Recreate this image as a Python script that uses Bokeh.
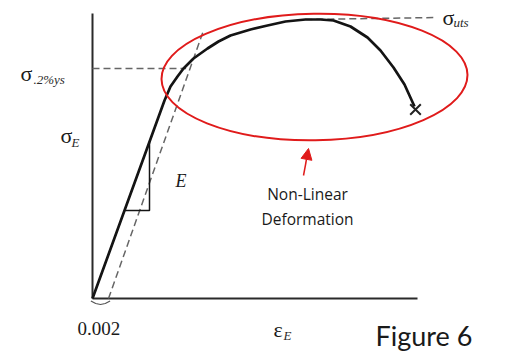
from bokeh.plotting import figure
from bokeh.models import Range1d, Arrow, NormalHead
from bokeh.core.properties import value
from bokeh.embed import file_html
from bokeh.resources import INLINE

# --- data (schematic stress-strain curve) ---
strain = [0.0, 0.009, 0.00975, 0.010625, 0.011375, 0.012625, 0.014375, 0.01575,
          0.01725, 0.01975, 0.021875, 0.024125, 0.026625, 0.0285, 0.030125,
          0.03225, 0.034375, 0.036, 0.037625, 0.039, 0.04025]
stress = [0, 396, 424, 444, 460, 480, 500, 514, 526, 538, 546, 554, 558, 558,
          556, 544, 522, 496, 462, 428, 384]
fracture_strain = [0.040375]
fracture_stress = [378]

offset_strain = [0.002, 0.013875]
offset_stress = [0, 536]
yield_strain = [0.0, 0.0117]
yield_stress = [460, 460]
uts_strain = [0.0266, 0.0431]
uts_stress = [558, 562]
tri_strain = [0.004, 0.007125, 0.007125]
tri_stress = [176, 176, 313.5]
axis_x_strain = [0.0, 0.040625]
axis_x_stress = [0, 0]
axis_y_strain = [0.0, 0.0]
axis_y_stress = [0, 570]
brace_strain = [-0.0002, 0.0004, 0.001, 0.0016, 0.0022]
brace_stress = [-5, -10, -12, -10, -5]

ellipse_center = (0.02775, 443)
ellipse_size = (0.03825, 253)
arrow_from = (0.026375, 246)
arrow_to = (0.027, 300)

sym_text = ["σ", "σ", "σ", "ε"]
sym_x = [-0.009, -0.004, 0.04375, 0.022625]
sym_y = [450, 326, 562, -62]
sub_text = [".2%ys", "E", "uts", "E"]
sub_x = [-0.007375, -0.002625, 0.045125, 0.023875]
sub_y = [438, 312, 552, -74]
e_text = ["E"]
e_x = [0.010375]
e_y = [236]
tick_text = ["0.002"]
tick_x = [-0.001875]
tick_y = [-60]
note_text = ["Non-Linear", "Deformation"]
note_x = [0.026875, 0.026875]
note_y = [210, 160]
fig_text = ["Figure 6"]
fig_x = [0.035375]
fig_y = [-74]

p = figure(width=528, height=356, x_range=Range1d(-0.0115, 0.0545),
           y_range=Range1d(-116, 596), x_axis_type=None, y_axis_type=None,
           toolbar_location=None, output_backend="svg", min_border=0)
p.outline_line_color = None
p.background_fill_color = "white"
p.border_fill_color = "white"

ink = "#141414"
dash_col = "#666666"
red = "#e01b1b"

# axes
p.line(axis_x_strain, axis_x_stress, line_color="#2a2a2a", line_width=2)
p.line(axis_y_strain, axis_y_stress, line_color="#2a2a2a", line_width=2)

# dashed construction lines
p.line(offset_strain, offset_stress, line_color=dash_col, line_width=1.5, line_dash="7 4")
p.line(yield_strain, yield_stress, line_color=dash_col, line_width=1.5, line_dash="7 4")
p.line(uts_strain, uts_stress, line_color=dash_col, line_width=1.5, line_dash="7 4")

# triangle for E
p.line(tri_strain, tri_stress, line_color=ink, line_width=1.5)

# brace
p.line(brace_strain, brace_stress, line_color="#555555", line_width=1.2)

# curve
p.line(strain, stress, line_color=ink, line_width=2.7)
p.scatter(fracture_strain, fracture_stress, marker="x", size=15, line_width=2,
          line_color="#222222")

# red ellipse
p.ellipse(x=[ellipse_center[0]], y=[ellipse_center[1]], width=[ellipse_size[0]],
          height=[ellipse_size[1]], angle=0.015, fill_color=None,
          line_color=red, line_width=2)

p.add_layout(Arrow(end=NormalHead(size=11, fill_color=red, line_color=red),
                   x_start=arrow_from[0], y_start=arrow_from[1],
                   x_end=arrow_to[0], y_end=arrow_to[1],
                   line_color=red, line_width=1.5))

serif = value("Liberation Serif")
p.text(sym_x, sym_y, text=sym_text, text_font=serif, text_font_size=value("22px"),
       text_color="#1a1a1a", text_baseline="alphabetic", text_align="left")
p.text(sub_x, sub_y, text=sub_text, text_font=serif, text_font_size=value("13px"),
       text_font_style="italic", text_color="#2a2a2a", text_baseline="alphabetic",
       text_align="left")
p.text(e_x, e_y, text=e_text, text_font=serif, text_font_size=value("18px"),
       text_font_style="italic", text_color="#1a1a1a", text_baseline="alphabetic",
       text_align="left")
p.text(tick_x, tick_y, text=tick_text, text_font=serif, text_font_size=value("19px"),
       text_color="#1a1a1a", text_baseline="alphabetic", text_align="left")
p.text(note_x, note_y, text=note_text, text_font=value("Open Sans"),
       text_font_size=value("15.5px"), text_color="#1a1a1a", text_baseline="middle",
       text_align="center")
p.text(fig_x, fig_y, text=fig_text, text_font=value("Lato"),
       text_font_size=value("27px"), text_color="#1a1a1a", text_baseline="alphabetic",
       text_align="left")

open("out.html", "w").write(file_html(p, INLINE))
